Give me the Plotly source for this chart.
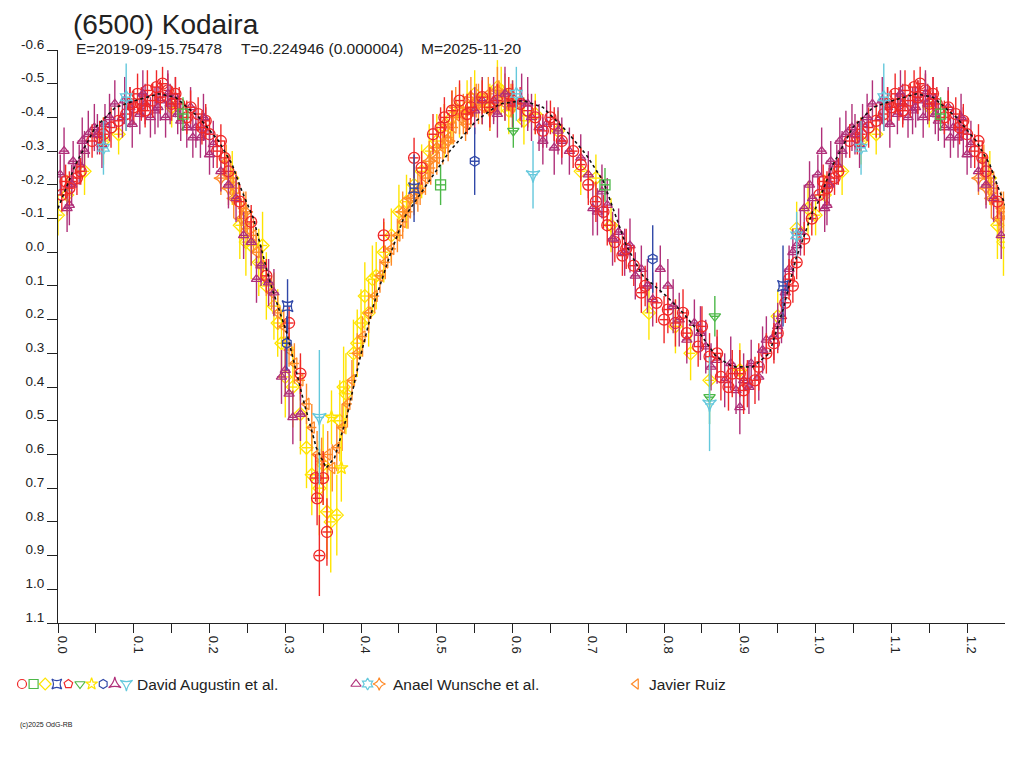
import numpy as np
import plotly.graph_objects as go

# ---- fitted lightcurve (phase, reduced magnitude) ----
fit_phase = [0.000, 0.023, 0.049, 0.076, 0.102, 0.133, 0.155, 0.186, 0.212, 0.230,
             0.243, 0.258, 0.280, 0.302, 0.324, 0.341, 0.354, 0.365, 0.381, 0.398,
             0.416, 0.438, 0.456, 0.486, 0.517, 0.552, 0.583, 0.614, 0.640, 0.671,
             0.697, 0.720, 0.733, 0.750, 0.772, 0.803, 0.825, 0.847, 0.869, 0.891,
             0.917, 0.939, 0.957, 0.974, 0.996]
fit_mag = [-0.13, -0.26, -0.37, -0.43, -0.45, -0.47, -0.46, -0.40, -0.33, -0.26,
           -0.18, -0.10, 0.09, 0.24, 0.44, 0.58, 0.64, 0.61, 0.49, 0.32,
           0.16, 0.01, -0.10, -0.20, -0.30, -0.39, -0.44, -0.45, -0.43, -0.36,
           -0.29, -0.21, -0.13, -0.02, 0.07, 0.13, 0.18, 0.24, 0.31, 0.34,
           0.34, 0.30, 0.17, 0.02, -0.12]

# ---- David Augustin et al. ----
da_circle_phase = [0.005, 0.010, 0.018, 0.025, 0.030, 0.045, 0.055, 0.070, 0.080, 0.090,
                   0.100, 0.105, 0.110, 0.118, 0.125, 0.130, 0.138, 0.145, 0.150, 0.160,
                   0.170, 0.185, 0.195, 0.200, 0.210, 0.220, 0.225, 0.240, 0.255, 0.275,
                   0.305, 0.320, 0.340, 0.342, 0.345, 0.355, 0.350, 0.430, 0.470, 0.480,
                   0.495, 0.505, 0.520, 0.530, 0.545, 0.560, 0.580, 0.595, 0.610, 0.620,
                   0.640, 0.655, 0.665, 0.680, 0.700, 0.710, 0.720, 0.735, 0.745, 0.760,
                   0.775, 0.790, 0.805, 0.815, 0.830, 0.845, 0.860, 0.875, 0.885, 0.900,
                   0.910, 0.925, 0.935, 0.950, 0.960, 0.970, 0.985, 0.995]
da_circle_mag = [-0.17, -0.21, -0.21, -0.22, -0.24, -0.33, -0.34, -0.37, -0.39, -0.41,
                 -0.43, -0.47, -0.44, -0.48, -0.45, -0.49, -0.50, -0.48, -0.44, -0.44,
                 -0.40, -0.41, -0.39, -0.35, -0.30, -0.28, -0.24, -0.15, -0.09, 0.07,
                 0.21, 0.36, 0.67, 0.73, 0.90, 0.83, 0.67, -0.05, -0.28, -0.25,
                 -0.35, -0.37, -0.42, -0.45, -0.43, -0.46, -0.45, -0.47, -0.44, -0.42,
                 -0.36, -0.38, -0.33, -0.30, -0.20, -0.15, -0.12, -0.03, 0.01, 0.04,
                 0.10, 0.15, 0.17, 0.21, 0.24, 0.28, 0.31, 0.37, 0.40, 0.36,
                 0.39, 0.34, 0.30, 0.24, 0.15, 0.10, -0.04, -0.10]
da_circle_err = [0.05, 0.05, 0.04, 0.05, 0.04, 0.05, 0.05, 0.06, 0.05, 0.05,
                 0.05, 0.06, 0.05, 0.06, 0.05, 0.05, 0.05, 0.05, 0.05, 0.05,
                 0.05, 0.05, 0.05, 0.05, 0.05, 0.05, 0.04, 0.05, 0.05, 0.05,
                 0.05, 0.06, 0.07, 0.08, 0.12, 0.10, 0.08, 0.05, 0.06, 0.05,
                 0.06, 0.06, 0.06, 0.06, 0.05, 0.05, 0.05, 0.05, 0.05, 0.05,
                 0.05, 0.05, 0.05, 0.05, 0.06, 0.06, 0.05, 0.06, 0.06, 0.06,
                 0.06, 0.06, 0.07, 0.07, 0.07, 0.06, 0.07, 0.07, 0.07, 0.07,
                 0.07, 0.07, 0.06, 0.06, 0.06, 0.05, 0.05, 0.05]

da_circle2_phase = [0.015, 0.060, 0.095, 0.115, 0.135, 0.155, 0.175, 0.190, 0.215, 0.510,
                    0.540, 0.570, 0.600, 0.630, 0.650, 0.690, 0.725, 0.750, 0.770, 0.800,
                    0.825, 0.850, 0.870, 0.890, 0.905, 0.920, 0.945, 0.965, 0.975]
da_circle2_mag = [-0.19, -0.35, -0.44, -0.42, -0.46, -0.47, -0.43, -0.37, -0.33, -0.40,
                  -0.41, -0.43, -0.45, -0.40, -0.40, -0.26, -0.08, -0.01, 0.12, 0.20,
                  0.18, 0.22, 0.30, 0.36, 0.41, 0.38, 0.27, 0.08, 0.03]
da_circle2_err = [0.05, 0.05, 0.05, 0.05, 0.05, 0.05, 0.05, 0.05, 0.05, 0.06,
                  0.06, 0.06, 0.05, 0.05, 0.05, 0.05, 0.06, 0.06, 0.06, 0.07,
                  0.07, 0.06, 0.07, 0.07, 0.07, 0.07, 0.06, 0.06, 0.05]

da_diamond_phase = [0.000, 0.012, 0.035, 0.060, 0.080, 0.150, 0.230, 0.240, 0.248, 0.265,
                    0.270, 0.285, 0.290, 0.300, 0.320, 0.335, 0.345, 0.355, 0.360, 0.368,
                    0.372, 0.380, 0.390, 0.400, 0.410, 0.420, 0.440, 0.460, 0.480, 0.500,
                    0.520, 0.540, 0.560, 0.585, 0.600, 0.615, 0.630, 0.660, 0.690, 0.710,
                    0.730, 0.780, 0.815, 0.835, 0.860, 0.900, 0.950, 0.975, 0.990]
da_diamond_mag = [-0.11, -0.17, -0.24, -0.33, -0.35, -0.43, -0.22, -0.08, -0.03, 0.03,
                  -0.02, 0.16, 0.21, 0.37, 0.48, 0.66, 0.70, 0.77, 0.80, 0.78,
                  0.50, 0.42, 0.30, 0.21, 0.18, 0.07, -0.05, -0.15, -0.24, -0.33,
                  -0.40, -0.43, -0.45, -0.48, -0.44, -0.39, -0.41, -0.36, -0.24, -0.22,
                  -0.08, 0.18, 0.22, 0.30, 0.38, 0.35, 0.19, -0.07, -0.13]
da_diamond_err = [0.06, 0.06, 0.07, 0.07, 0.06, 0.06, 0.08, 0.10, 0.10, 0.10,
                  0.10, 0.10, 0.10, 0.12, 0.12, 0.12, 0.14, 0.14, 0.15, 0.12,
                  0.12, 0.12, 0.10, 0.10, 0.10, 0.10, 0.08, 0.08, 0.08, 0.08,
                  0.08, 0.08, 0.07, 0.07, 0.07, 0.07, 0.06, 0.06, 0.07, 0.07,
                  0.08, 0.08, 0.08, 0.08, 0.08, 0.08, 0.08, 0.08, 0.08]

da_diamond2_phase = [0.255, 0.275, 0.295, 0.310, 0.328, 0.350, 0.377, 0.395, 0.405, 0.415,
                     0.430, 0.450, 0.470, 0.490, 0.510, 0.530, 0.550, 0.570, 0.580, 0.595]
da_diamond2_mag = [-0.02, 0.10, 0.27, 0.40, 0.58, 0.63, 0.40, 0.27, 0.13, 0.08,
                   0.00, -0.12, -0.20, -0.30, -0.36, -0.42, -0.47, -0.43, -0.49, -0.42]
da_diamond2_err = [0.10, 0.10, 0.10, 0.12, 0.12, 0.12, 0.12, 0.10, 0.10, 0.10,
                   0.09, 0.08, 0.08, 0.08, 0.08, 0.08, 0.07, 0.07, 0.08, 0.07]

da_square_phase = [0.165, 0.505, 0.722]
da_square_mag = [-0.41, -0.20, -0.20]
da_square_err = [0.05, 0.06, 0.05]

da_starsq_phase = [0.303, 0.470, 0.957]
da_starsq_mag = [0.16, -0.19, 0.10]
da_starsq_err = [0.08, 0.10, 0.12]

da_tridown_phase = [0.601, 0.867, 0.860]
da_tridown_mag = [-0.36, 0.19, 0.43]
da_tridown_err = [0.05, 0.06, 0.08]

da_star_phase = [0.361, 0.374]
da_star_mag = [0.49, 0.64]
da_star_err = [0.08, 0.10]

da_hexagon_phase = [0.550, 0.785, 0.302]
da_hexagon_mag = [-0.27, 0.02, 0.27]
da_hexagon_err = [0.10, 0.10, 0.08]

da_cyan_phase = [0.345, 0.860, 0.627]
da_cyan_mag = [0.49, 0.45, -0.23]
da_cyan_err = [0.20, 0.14, 0.10]

# ---- Anael Wunsche et al. ----
aw_tri_phase = [0.003, 0.008, 0.012, 0.015, 0.020, 0.028, 0.035, 0.040, 0.048, 0.058,
                0.062, 0.075, 0.085, 0.095, 0.108, 0.115, 0.122, 0.128, 0.135, 0.142,
                0.148, 0.155, 0.162, 0.170, 0.178, 0.182, 0.188, 0.195, 0.205, 0.215,
                0.235, 0.245, 0.255, 0.268, 0.285, 0.295, 0.300, 0.305, 0.310, 0.320,
                0.550, 0.560, 0.575, 0.600, 0.612, 0.625, 0.635, 0.645, 0.655, 0.665,
                0.675, 0.700, 0.706, 0.712, 0.725, 0.740, 0.755, 0.770, 0.785, 0.795,
                0.805, 0.820, 0.830, 0.840, 0.855, 0.870, 0.880, 0.895, 0.905, 0.915,
                0.925, 0.935, 0.945, 0.955, 0.965, 0.975, 0.985, 0.992]
aw_tri_mag = [-0.23, -0.30, -0.13, -0.14, -0.27, -0.26, -0.30, -0.35, -0.37, -0.32,
              -0.38, -0.44, -0.40, -0.43, -0.41, -0.44, -0.40, -0.42, -0.45, -0.40,
              -0.44, -0.46, -0.39, -0.37, -0.34, -0.37, -0.34, -0.36, -0.32, -0.24,
              -0.16, -0.05, -0.03, 0.04, 0.12, 0.37, 0.35, 0.42, 0.49, 0.48,
              -0.42, -0.45, -0.45, -0.44, -0.45, -0.40, -0.37, -0.38, -0.31, -0.33,
              -0.30, -0.23, -0.13, -0.12, -0.14, -0.06, -0.02, 0.05, 0.14, 0.05,
              0.10, 0.20, 0.26, 0.21, 0.28, 0.32, 0.38, 0.41, 0.38, 0.33,
              0.37, 0.26, 0.25, 0.19, 0.05, -0.02, -0.13, -0.20]
aw_tri_err = [0.06, 0.07, 0.07, 0.06, 0.06, 0.06, 0.06, 0.07, 0.07, 0.07,
              0.06, 0.07, 0.06, 0.06, 0.06, 0.06, 0.06, 0.07, 0.06, 0.06,
              0.06, 0.06, 0.06, 0.06, 0.06, 0.06, 0.06, 0.07, 0.07, 0.06,
              0.07, 0.07, 0.07, 0.06, 0.07, 0.08, 0.07, 0.07, 0.08, 0.08,
              0.07, 0.07, 0.07, 0.07, 0.08, 0.07, 0.07, 0.07, 0.08, 0.07,
              0.07, 0.07, 0.08, 0.07, 0.08, 0.07, 0.08, 0.07, 0.08, 0.07,
              0.08, 0.08, 0.07, 0.07, 0.08, 0.07, 0.08, 0.07, 0.08, 0.07,
              0.07, 0.07, 0.07, 0.08, 0.07, 0.07, 0.07, 0.07]

aw_tri2_phase = [0.018, 0.032, 0.052, 0.068, 0.088, 0.098, 0.112, 0.132, 0.145, 0.158,
                 0.175, 0.192, 0.200, 0.225, 0.262, 0.278, 0.580, 0.590, 0.620, 0.640,
                 0.660, 0.690, 0.718, 0.732, 0.748, 0.762, 0.778, 0.812, 0.848, 0.862,
                 0.888, 0.900, 0.912, 0.930, 0.950, 0.960, 0.970, 0.980, 0.996]
aw_tri2_mag = [-0.20, -0.33, -0.35, -0.40, -0.45, -0.38, -0.47, -0.43, -0.47, -0.41,
               -0.43, -0.40, -0.29, -0.20, 0.08, 0.09, -0.41, -0.47, -0.44, -0.33,
               -0.36, -0.28, -0.18, -0.04, 0.00, 0.07, 0.10, 0.16, 0.24, 0.34,
               0.33, 0.46, 0.40, 0.29, 0.22, 0.12, 0.00, -0.06, -0.16]
aw_tri2_err = [0.06, 0.07, 0.06, 0.07, 0.07, 0.07, 0.07, 0.06, 0.07, 0.06,
               0.06, 0.07, 0.06, 0.07, 0.07, 0.07, 0.07, 0.08, 0.08, 0.07,
               0.07, 0.07, 0.08, 0.08, 0.07, 0.07, 0.08, 0.08, 0.08, 0.07,
               0.08, 0.08, 0.08, 0.07, 0.07, 0.07, 0.07, 0.07, 0.07]

aw_hexagram_phase = [0.060, 0.090, 0.605, 0.975]
aw_hexagram_mag = [-0.31, -0.46, -0.47, -0.05]
aw_hexagram_err = [0.08, 0.10, 0.08, 0.07]

aw_stardiamond_phase = [0.215, 0.225, 0.232, 0.242, 0.248, 0.455, 0.465, 0.475, 0.490, 0.500,
                        0.510, 0.515, 0.525, 0.535, 0.545, 0.555, 0.570, 0.580, 0.590, 0.600]
aw_stardiamond_mag = [-0.22, -0.19, -0.16, -0.10, -0.12, -0.12, -0.16, -0.18, -0.27, -0.31,
                      -0.38, -0.33, -0.43, -0.41, -0.46, -0.44, -0.42, -0.48, -0.47, -0.43]
aw_stardiamond_err = [0.05, 0.05, 0.06, 0.06, 0.06, 0.06, 0.06, 0.06, 0.06, 0.06,
                      0.06, 0.06, 0.06, 0.06, 0.06, 0.06, 0.06, 0.07, 0.06, 0.06]

# ---- Javier Ruiz ----
jr_phase = [0.222, 0.228, 0.235, 0.245, 0.250, 0.258, 0.262, 0.268, 0.275, 0.282,
            0.290, 0.298, 0.305, 0.312, 0.320, 0.328, 0.335, 0.342, 0.348, 0.356,
            0.362, 0.368, 0.375, 0.382, 0.388, 0.395, 0.402, 0.410, 0.418, 0.425,
            0.432, 0.440, 0.448, 0.455, 0.462, 0.470, 0.478, 0.485, 0.492, 0.500,
            0.508, 0.515, 0.522, 0.530, 0.538, 0.545, 0.552, 0.560, 0.568, 0.575,
            0.582, 0.590, 0.598]
jr_mag = [-0.27, -0.22, -0.19, -0.13, -0.07, -0.05, 0.00, 0.04, 0.08, 0.12,
          0.18, 0.22, 0.29, 0.33, 0.38, 0.45, 0.52, 0.60, 0.62, 0.60,
          0.64, 0.58, 0.52, 0.45, 0.38, 0.30, 0.25, 0.18, 0.13, 0.07,
          0.03, -0.01, -0.05, -0.09, -0.12, -0.16, -0.19, -0.22, -0.25, -0.28,
          -0.31, -0.34, -0.37, -0.40, -0.38, -0.42, -0.45, -0.43, -0.47, -0.44,
          -0.46, -0.44, -0.45]
jr_err = [0.05, 0.05, 0.05, 0.05, 0.05, 0.05, 0.05, 0.05, 0.05, 0.05,
          0.05, 0.05, 0.05, 0.06, 0.06, 0.06, 0.07, 0.07, 0.07, 0.07,
          0.07, 0.07, 0.07, 0.07, 0.06, 0.06, 0.06, 0.06, 0.05, 0.05,
          0.05, 0.05, 0.05, 0.05, 0.05, 0.05, 0.05, 0.05, 0.05, 0.05,
          0.05, 0.05, 0.05, 0.05, 0.05, 0.05, 0.05, 0.05, 0.05, 0.05,
          0.05, 0.05, 0.05]

x_ticks = [0.0, 0.05, 0.1, 0.15, 0.2, 0.25, 0.3, 0.35, 0.4, 0.45, 0.5, 0.55, 0.6,
           0.65, 0.7, 0.75, 0.8, 0.85, 0.9, 0.95, 1.0, 1.05, 1.1, 1.15, 1.2]
x_ticktext = ["0.0", "", "0.1", "", "0.2", "", "0.3", "", "0.4", "", "0.5", "", "0.6",
              "", "0.7", "", "0.8", "", "0.9", "", "1.0", "", "1.1", "", "1.2"]
y_ticks = [-0.6, -0.5, -0.4, -0.3, -0.2, -0.1, 0.0, 0.1, 0.2, 0.3, 0.4, 0.5,
           0.6, 0.7, 0.8, 0.9, 1.0, 1.1]
y_ticktext = ["-0.6", "-0.5", "-0.4", "-0.3", "-0.2", "-0.1", "0.0", "0.1", "0.2", "0.3",
              "0.4", "0.5", "0.6", "0.7", "0.8", "0.9", "1.0", "1.1"]

RED = "#F02828"
PURPLE = "#B0307A"
YELLOW = "#FFE400"
ORANGE = "#FF8A28"
CYAN = "#64C8DC"
BLUE = "#3048A8"
GREEN = "#4CB848"
FONT = "Liberation Sans"

W, H = 1024, 768
OFF = 8  # page margin around the figure; pixel targets below are screen positions


def wrap(ph, mag, err=None, limit=0.25):
    # phases below `limit` are repeated one cycle later (plot runs to 1.25)
    ph = np.asarray(ph, dtype=float)
    mag = np.asarray(mag, dtype=float)
    m = ph < limit
    out = [np.r_[ph, ph[m] + 1], np.r_[mag, mag[m]]]
    if err is not None:
        err = np.asarray(err, dtype=float)
        out.append(np.r_[err, err[m]])
    return out


fig = go.Figure()


def add_points(ph, mag, err, symbol, color, size=10):
    x, y, e = wrap(ph, mag, err)
    fig.add_trace(go.Scatter(
        x=x, y=y, mode="markers", showlegend=False, hoverinfo="skip",
        marker=dict(symbol=symbol, size=size, color=color, line=dict(color=color, width=1.3)),
        error_y=dict(type="data", array=e, color=color, thickness=1.4, width=0),
        error_x=dict(type="constant", value=0.006, color=color, thickness=1.4, width=0),
    ))


add_points(da_diamond_phase, da_diamond_mag, da_diamond_err, "diamond-open", YELLOW)
add_points(da_diamond2_phase, da_diamond2_mag, da_diamond2_err, "diamond-open", YELLOW)
add_points(jr_phase, jr_mag, jr_err, "triangle-left-open", ORANGE)
add_points(aw_stardiamond_phase, aw_stardiamond_mag, aw_stardiamond_err, "star-diamond-open", ORANGE)
add_points(aw_tri_phase, aw_tri_mag, aw_tri_err, "triangle-up-open", PURPLE, 9)
add_points(da_circle_phase, da_circle_mag, da_circle_err, "circle-open", RED, 11)
add_points(aw_tri2_phase, aw_tri2_mag, aw_tri2_err, "triangle-up-open", PURPLE, 9)
add_points(da_circle2_phase, da_circle2_mag, da_circle2_err, "circle-open", RED, 11)
add_points(da_square_phase, da_square_mag, da_square_err, "square-open", GREEN)
add_points(da_starsq_phase, da_starsq_mag, da_starsq_err, "star-square-open", BLUE)
add_points(da_tridown_phase, da_tridown_mag, da_tridown_err, "triangle-down-open", GREEN)
add_points(da_star_phase, da_star_mag, da_star_err, "star-open", YELLOW)
add_points(da_hexagon_phase, da_hexagon_mag, da_hexagon_err, "hexagon-open", BLUE)
add_points(da_cyan_phase, da_cyan_mag, da_cyan_err, "star-triangle-down-open", CYAN)
add_points(aw_hexagram_phase, aw_hexagram_mag, aw_hexagram_err, "hexagram-open", CYAN)

fx, fy = wrap(fit_phase, fit_mag, limit=0.26)
fig.add_trace(go.Scatter(x=fx, y=fy, mode="lines", showlegend=False, hoverinfo="skip",
                         line=dict(color="#111111", width=1.6, dash="dot")))

# custom legend row (drawn on a pixel-sized overlay axis)
legend_groups = [
    ("David Augustin et al.", 22, 135,
     [("circle-open", RED), ("square-open", GREEN), ("diamond-open", YELLOW),
      ("star-square-open", BLUE), ("pentagon-open", RED), ("triangle-down-open", GREEN),
      ("star-open", YELLOW), ("hexagon-open", BLUE), ("star-triangle-up-open", PURPLE),
      ("star-triangle-down-open", CYAN)]),
    ("Anael Wunsche et al.", 356, 391,
     [("triangle-up-open", PURPLE), ("hexagram-open", CYAN), ("star-diamond-open", ORANGE)]),
    ("Javier Ruiz", 636, 647, [("triangle-left-open", ORANGE)]),
]
for name, x0, xt, syms in legend_groups:
    for i, (sym, col) in enumerate(syms):
        fig.add_trace(go.Scatter(
            x=[x0 + i * 11.6 - OFF], y=[684 - OFF], xaxis="x2", yaxis="y2", mode="markers",
            showlegend=False, hoverinfo="skip",
            marker=dict(symbol=sym, size=9, color=col, line=dict(color=col, width=1.2))))
    fig.add_annotation(x=xt - OFF, y=684 - OFF, xref="x2", yref="y2", text=name, showarrow=False,
                       xanchor="left", yanchor="middle",
                       font=dict(family=FONT, size=15.5, color="#222222"))

fig.add_annotation(x=72 - OFF, y=24 - OFF, xref="x2", yref="y2", text="(6500) Kodaira", showarrow=False,
                   xanchor="left", yanchor="middle", borderpad=0,
                   font=dict(family=FONT, size=28, color="#222222"))
for txt, xpos in [("E=2019-09-15.75478", 74), ("T=0.224946 (0.000004)", 239), ("M=2025-11-20", 419)]:
    fig.add_annotation(x=xpos - OFF, y=48 - OFF, xref="x2", yref="y2", text=txt, showarrow=False,
                       xanchor="left", yanchor="middle",
                       font=dict(family=FONT, size=15.5, color="#222222"))
fig.add_annotation(x=18 - OFF, y=725 - OFF, xref="x2", yref="y2", text="(c)2025 OdG-RB", showarrow=False,
                   xanchor="left", yanchor="middle", font=dict(family=FONT, size=7, color="#222222"))

fig.update_layout(
    width=W, height=H,
    margin=dict(l=0, r=0, t=0, b=0, pad=0, autoexpand=False),
    paper_bgcolor="white", plot_bgcolor="rgba(0,0,0,0)",
    font=dict(family=FONT, size=13, color="#222222"),
    xaxis=dict(domain=[(58 - OFF) / W, (1005 - OFF) / W], range=[0, 1.25], tickmode="array",
               tickvals=x_ticks, ticktext=x_ticktext, tickangle=90,
               ticks="outside", ticklen=9, tickcolor="#222222", showgrid=False, zeroline=False,
               showline=True, linecolor="#222222", linewidth=1.2,
               tickfont=dict(family=FONT, size=13), ticklabelshift=4),
    yaxis=dict(domain=[1 - (623 - OFF) / H, 1 - (50 - OFF) / H], range=[1.1, -0.6], tickmode="array",
               tickvals=y_ticks, ticktext=y_ticktext,
               ticks="outside", ticklen=10, tickcolor="#222222", showgrid=False, zeroline=False,
               showline=True, linecolor="#222222", linewidth=1.2,
               tickfont=dict(family=FONT, size=13.5), ticklabelshift=6),
    xaxis2=dict(domain=[0, 1], range=[0, W], visible=False, anchor="y2"),
    yaxis2=dict(domain=[0, 1], range=[H, 0], visible=False, anchor="x2"),
)

fig.write_html("out.html")
